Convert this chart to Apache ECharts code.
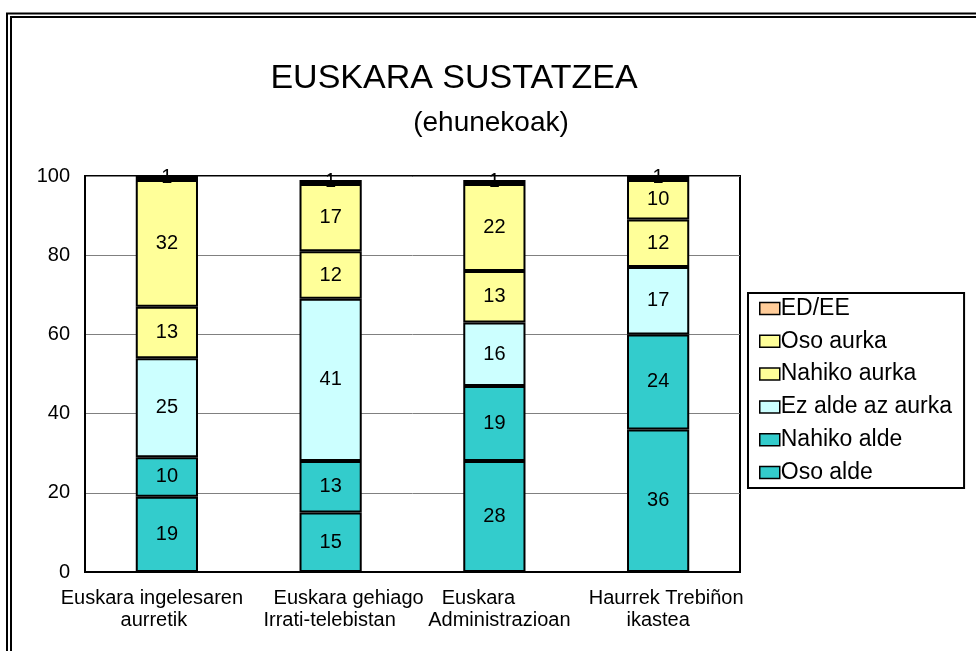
<!DOCTYPE html>
<html>
<head>
<meta charset="utf-8">
<script src="https://cdn.jsdelivr.net/npm/echarts@6/dist/echarts.min.js"></script>
<style>
  body { margin: 0; background: #fff; }
  #chart { width: 976px; height: 651px; }
</style>
</head>
<body>
<div id="chart"></div>
<script>
// datuak (ehunekoak)
const categories = [
  "Euskara ingelesaren\naurretik",
  "Euskara gehiago\nIrrati-telebistan",
  "Euskara\nAdministrazioan",
  "Haurrek Trebiñon\nikastea"
];
const osoAlde = [19, 15, 28, 36];
const nahikoAlde = [10, 13, 19, 24];
const ezAldeAzAurka = [25, 41, 16, 17];
const nahikoAurka = [13, 12, 13, 12];
const osoAurka = [32, 17, 22, 10];
const edEe = [1, 1, 1, 1];
const yTicks = [0, 20, 40, 60, 80, 100];

const font = "'Liberation Sans', Arial, sans-serif";

// x etiketen lerroak ez daude guztiz zentratuta jatorrizkoan (px desplazamendua)
const lineShift = [[-15, -13], [18, -1], [-16, 5], [8, 0]];

function bar(name, data, color) {
  return {
    name: name,
    type: "bar",
    stack: "guztira",
    data: data,
    barWidth: "38%",
    itemStyle: { color: color, borderColor: "#000", borderWidth: 2 },
    label: {
      show: true,
      position: "inside",
      color: "#000",
      fontSize: 20,
      fontFamily: font
    }
  };
}

const rich = {};
lineShift.forEach(function (s, i) {
  s.forEach(function (d, j) {
    rich["c" + i + "l" + j] = {
      fontSize: 20,
      lineHeight: 22,
      color: "#000",
      fontFamily: font,
      padding: d > 0 ? [0, 0, 0, 2 * d] : [0, -2 * d, 0, 0]
    };
  });
});

const myChart = echarts.init(document.getElementById("chart"));
myChart.setOption({
  animation: false,
  textStyle: { fontFamily: font },
  title: [
    {
      text: "EUSKARA SUSTATZEA",
      left: 449,
      top: 57,
      textAlign: "center",
      textStyle: { fontSize: 34, fontWeight: "normal", color: "#000", fontFamily: font }
    },
    {
      text: "(ehunekoak)",
      left: 486,
      top: 104,
      textAlign: "center",
      textStyle: { fontSize: 28, fontWeight: "normal", color: "#000", fontFamily: font }
    }
  ],
  graphic: [
    {
      type: "rect",
      shape: { x: 7, y: 13.5, width: 1000, height: 700 },
      style: { fill: "none", stroke: "#000", lineWidth: 2 }
    },
    {
      type: "rect",
      shape: { x: 11, y: 17, width: 1000, height: 700 },
      style: { fill: "none", stroke: "#000", lineWidth: 2 }
    }
  ],
  grid: {
    left: 85,
    top: 176,
    right: 236,
    bottom: 79,
    show: true,
    borderColor: "#000",
    borderWidth: 2,
    containLabel: false
  },
  legend: {
    orient: "vertical",
    left: 748,
    top: 293,
    padding: [4, 12, 4, 11],
    itemGap: 9.8,
    itemWidth: 20,
    itemHeight: 12,
    backgroundColor: "#fff",
    borderColor: "#000",
    borderWidth: 2,
    icon: "rect",
    itemStyle: { borderColor: "#000", borderWidth: 1.5 },
    textStyle: { fontSize: 23, lineHeight: 23, color: "#000", fontFamily: font, padding: [0, 0, 0, -4] },
    data: ["ED/EE", "Oso aurka", "Nahiko aurka", "Ez alde az aurka", "Nahiko alde", "Oso alde"]
  },
  xAxis: {
    type: "category",
    data: categories,
    axisLine: { lineStyle: { color: "#000", width: 2 } },
    axisTick: { show: false },
    axisLabel: {
      color: "#000",
      fontSize: 20,
      fontFamily: font,
      lineHeight: 22,
      margin: 15,
      interval: 0,
      rich: rich,
      formatter: function (value, idx) {
        return value.split("\n").map(function (line, j) {
          return "{c" + idx + "l" + j + "|" + line + "}";
        }).join("\n");
      }
    }
  },
  yAxis: {
    type: "value",
    min: yTicks[0],
    max: yTicks[yTicks.length - 1],
    interval: 20,
    axisLine: { show: true, lineStyle: { color: "#000", width: 2 } },
    axisTick: { show: false },
    axisLabel: { color: "#000", fontSize: 20, fontFamily: font, margin: 15 },
    splitLine: { lineStyle: { color: "#808080", width: 1 } }
  },
  series: [
    bar("Oso alde", osoAlde, "#33CCCC"),
    bar("Nahiko alde", nahikoAlde, "#33CCCC"),
    bar("Ez alde az aurka", ezAldeAzAurka, "#CCFFFF"),
    bar("Nahiko aurka", nahikoAurka, "#FFFF99"),
    bar("Oso aurka", osoAurka, "#FFFF99"),
    bar("ED/EE", edEe, "#FFCC99")
  ]
});
</script>
</body>
</html>
